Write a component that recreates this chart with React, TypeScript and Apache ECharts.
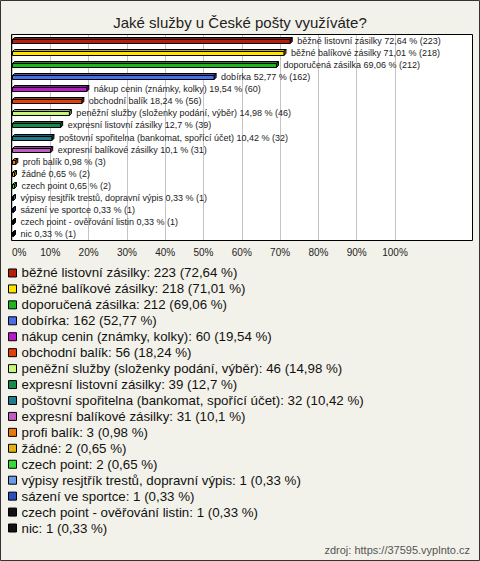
import React, { useEffect, useRef } from "react";
import * as echarts from "echarts";

const categories = [
  "běžné listovní zásilky",
  "běžné balíkové zásilky",
  "doporučená zásilka",
  "dobírka",
  "nákup cenin (známky, kolky)",
  "obchodní balík",
  "peněžní služby (složenky podání, výběr)",
  "expresní listovní zásilky",
  "poštovní spořitelna (bankomat, spořící účet)",
  "expresní balíkové zásilky",
  "profi balík",
  "žádné",
  "czech point",
  "výpisy resjtřík trestů, dopravní výpis",
  "sázení ve sportce",
  "czech point - ověřování listin",
  "nic",
];
const counts = [223, 218, 212, 162, 60, 56, 46, 39, 32, 31, 3, 2, 2, 1, 1, 1, 1];
const percents = [72.64, 71.01, 69.06, 52.77, 19.54, 18.24, 14.98, 12.7, 10.42, 10.1, 0.98, 0.65, 0.65, 0.33, 0.33, 0.33, 0.33];
const colors = [
  "#b81e0c",
  "#ffe400",
  "#1fb51f",
  "#4a6fe3",
  "#b81cc8",
  "#e0420e",
  "#c9f57c",
  "#178a4e",
  "#1d7b8c",
  "#c25cc2",
  "#e8780f",
  "#e2b20f",
  "#36dc36",
  "#6b9be6",
  "#2b4fbf",
  "#111111",
  "#111111",
];
const titleText = "Jaké služby u České pošty využíváte?";
const sourceText = "zdroj: https://37595.vyplnto.cz";

const FONT = "'Liberation Sans', Arial, sans-serif";
const fmt = (v: number) => String(v).replace(".", ",");

function shade(hex: string, f: number) {
  const n = parseInt(hex.slice(1), 16);
  const r = Math.round(((n >> 16) & 255) * f);
  const g = Math.round(((n >> 8) & 255) * f);
  const b = Math.round((n & 255) * f);
  return `rgb(${r},${g},${b})`;
}

export default function App() {
  const ref = useRef<HTMLDivElement>(null);
  useEffect(() => {
    document.body.style.margin = "0";
    const chart = echarts.init(ref.current!, null, { renderer: "svg" });

    const renderItem = (params: any, api: any) => {
      const i = params.seriesIndex;
      const v = api.value(0);
      const c = api.value(1);
      const p0 = api.coord([0, c]);
      const p1 = api.coord([v, c]);
      const x0 = Math.round(p0[0]) + 0.5;
      const x1 = Math.max(p1[0], x0 + 1);
      const yc = Math.round(p0[1]);
      const d = 2;
      const yT = yc - 1.5;
      const yB = yc + 2.5;
      const color = colors[i];
      return {
        type: "group",
        children: [
          {
            type: "polygon",
            shape: { points: [[x0, yT], [x0 + d, yT - d], [x1 + d, yT - d], [x1, yT]] },
            style: { fill: shade(color, 0.75), stroke: "#000", lineWidth: 1 },
          },
          {
            type: "polygon",
            shape: { points: [[x1, yT], [x1 + d, yT - d], [x1 + d, yB - d], [x1, yB]] },
            style: { fill: shade(color, 0.6), stroke: "#000", lineWidth: 1 },
          },
          {
            type: "rect",
            shape: { x: x0, y: yT, width: x1 - x0, height: yB - yT },
            style: { fill: color, stroke: "#000", lineWidth: 1 },
          },
          {
            type: "text",
            x: x1 + d + 5,
            y: yc,
            style: {
              text: `${categories[i]} ${fmt(percents[i])} % (${counts[i]})`,
              fill: "#222",
              font: `9px ${FONT}`,
              align: "left",
              verticalAlign: "middle",
            },
          },
        ],
      };
    };

    const series = categories.map((name, i) => ({
      type: "custom",
      name,
      coordinateSystem: "cartesian2d",
      data: [[percents[i], name]],
      itemStyle: { color: colors[i] },
      renderItem,
      silent: true,
    }));

    chart.setOption({
      animation: false,
      backgroundColor: "#f3f2ea",
      title: {
        text: titleText,
        left: "center",
        top: 10,
        textStyle: { fontSize: 15, fontWeight: "normal", color: "#222", fontFamily: FONT },
      },
      grid: { left: 12, right: 85, top: 35, height: 205 },
      xAxis: {
        type: "value",
        min: 0,
        max: 100,
        interval: 10,
        axisLine: { show: false },
        axisTick: { show: false },
        splitLine: { show: true, lineStyle: { color: "#c4c4c4", width: 1 } },
        axisLabel: {
          formatter: "{value}%",
          fontSize: 10,
          color: "#222",
          fontFamily: FONT,
          margin: 7,
          showMinLabel: true,
          showMaxLabel: true,
          alignMinLabel: "left",
        },
      },
      yAxis: {
        type: "category",
        data: categories,
        inverse: true,
        show: false,
      },
      legend: {
        orient: "vertical",
        left: 8,
        top: 265,
        padding: 0,
        itemWidth: 8,
        itemHeight: 8,
        itemGap: 0,
        icon: "rect",
        selectedMode: false,
        itemStyle: { borderColor: "#000", borderWidth: 1 },
        textStyle: { fontSize: 13.3, color: "#111", fontFamily: FONT, lineHeight: 15.94 },
        formatter: (name: string) => {
          const i = categories.indexOf(name);
          return `${name}: ${counts[i]} (${fmt(percents[i])} %)`;
        },
        data: categories,
      },
      graphic: [
        {
          type: "rect",
          z: -10,
          silent: true,
          shape: { x: 11.5, y: 34.5, width: 461, height: 206 },
          style: { fill: "#ffffff", stroke: "#000", lineWidth: 1 },
        },
        {
          type: "rect",
          z: 100,
          silent: true,
          shape: { x: 0.5, y: 0.5, width: 479, height: 560 },
          style: { fill: "none", stroke: "#333", lineWidth: 1 },
        },
        {
          type: "text",
          silent: true,
          x: 470,
          y: 550,
          style: {
            text: sourceText,
            fill: "#555",
            font: `11px ${FONT}`,
            align: "right",
            verticalAlign: "middle",
          },
        },
      ],
      series,
    });
    return () => chart.dispose();
  }, []);
  return <div ref={ref} style={{ width: 480, height: 561, position: "absolute", left: 0, top: 0 }} />;
}
